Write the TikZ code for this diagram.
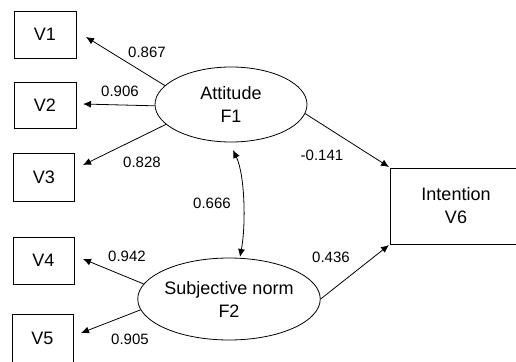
\documentclass[tikz,border=0pt]{standalone}
\usepackage{fontspec}
\setmainfont{Liberation Sans}
\usetikzlibrary{arrows.meta,shapes.geometric}
\begin{document}
\begin{tikzpicture}[x=1pt,y=-1pt,
  line width=0.8pt,
  obs/.style={draw,rectangle,inner sep=0pt,font=\fontsize{18}{23}\selectfont,align=center},
  lat/.style={draw,ellipse,inner sep=0pt,font=\fontsize{18}{23}\selectfont,align=center},
  lbl/.style={font=\fontsize{15}{18}\selectfont,inner sep=0pt},
  arr/.style={-{Latex[length=8pt,width=7pt]}},
  darr/.style={{Latex[length=8pt,width=7pt]}-{Latex[length=8pt,width=7pt]}}
]
\useasboundingbox (0,0) rectangle (516,361);
% observed variables
\node[obs,minimum width=62pt,minimum height=47pt] (v1) at (45,34.5) {V1};
\node[obs,minimum width=62pt,minimum height=46pt] (v2) at (45,105) {V2};
\node[obs,minimum width=61pt,minimum height=48pt] (v3) at (44,177) {V3};
\node[obs,minimum width=61pt,minimum height=47pt] (v4) at (43.5,260.5) {V4};
\node[obs,minimum width=61pt,minimum height=48pt] (v5) at (42.5,338) {V5};
\node[obs,minimum width=132pt,minimum height=76pt] (v6) at (456,206) {Intention\\V6};
% latent factors
\node[lat,minimum width=152pt,minimum height=75pt] (att) at (231,104.5) {Attitude\\F1};
\node[lat,minimum width=152pt,minimum height=82pt] (sn) at (229,299) {Subjective norm\\F2};
% arrow tip positions
\coordinate (t1) at (86,37);
\coordinate (t2) at (83,104);
\coordinate (t3) at (83,165);
\coordinate (t4) at (83,259);
\coordinate (t5) at (81,333);
\coordinate (t6a) at (389,167);
\coordinate (t6b) at (389,245);
\coordinate (ct) at (233,150);
\coordinate (cb) at (240,257);
% connectors
\draw[arr] (att.164) -- (t1);
\draw[arr] (att.181) -- (t2);
\draw[arr] (att.197) -- (t3);
\draw[arr] (att.353) -- (t6a);
\draw[arr] (sn.170) -- (t4);
\draw[arr] (sn.187) -- (t5);
\draw[arr] (sn.east) -- (t6b);
\draw[darr] (ct) .. controls (245,175) and (246,225) .. (cb);
% labels
\node[lbl] (l1) at (147,52) {0.867};
\node[lbl] (l2) at (120,91) {0.906};
\node[lbl] (l3) at (142,162) {0.828};
\node[lbl] (l6a) at (322,155) {-0.141};
\node[lbl] (l6b) at (331,257) {0.436};
\node[lbl] (lc) at (212,203) {0.666};
\node[lbl] (l4) at (127,256) {0.942};
\node[lbl] (l5) at (130,339) {0.905};
\end{tikzpicture}
\end{document}
